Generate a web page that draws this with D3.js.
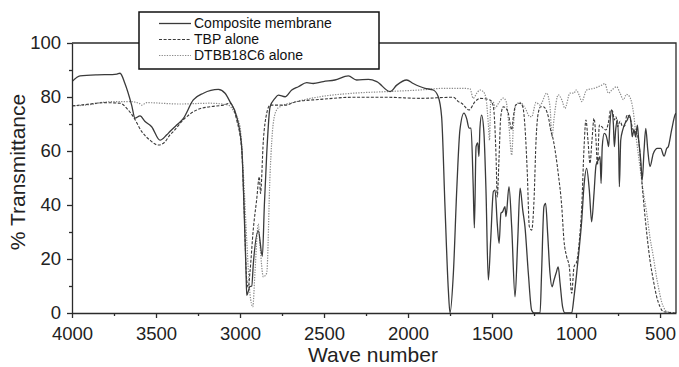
<!DOCTYPE html>
<html>
<head>
<meta charset="utf-8">
<script src="https://cdn.jsdelivr.net/npm/d3@7/dist/d3.min.js"></script>
<style>
  body { margin: 0; background: #fff; }
  svg { display: block; font-family: "Liberation Sans", Arial, sans-serif; }
</style>
</head>
<body>
<div id="chart"></div>
<script>
// wave numbers (cm-1) and % transmittance
const compositeWave = [4000,3952,3850,3760,3732,3714,3685,3645,3625,3595,3565,3526,3476,3436,3417,3377,3338,3278,3218,3129,3089,3060,3020,2990,2976,2964,2960,2951,2941,2930,2921,2891,2867,2855,2841,2821,2792,2772,2732,2692,2653,2603,2564,2504,2435,2355,2306,2236,2186,2107,2067,2008,1969,1899,1850,1820,1800,1780,1760,1750,1730,1710,1691,1667,1651,1637,1625,1612,1605,1595,1585,1578,1572,1562,1548,1536,1522,1508,1492,1482,1469,1458,1447,1437,1423,1417,1399,1383,1363,1347,1333,1317,1304,1284,1264,1250,1214,1205,1191,1181,1169,1155,1143,1131,1119,1106,1095,1080,1066,1026,1012,996,980,966,953,937,921,907,893,881,867,857,851,844,832,822,814,806,798,788,778,772,764,754,746,742,734,722,708,695,683,673,666,655,645,635,627,615,606,595,585,573,560,540,516,496,476,460,451,431,411,405];
const compositeT = [85.7,87.8,88.2,88.3,88.5,88.8,85,77,72.2,73,70.9,69,64,66,67.2,69.6,72,78.9,81.4,82.8,81.4,78.3,72.7,61.6,39,14.8,6.5,8,9.8,10,18,30.4,21,40,59,76.4,79.5,80.7,80.1,82.6,83.8,85.3,85,85.7,86.3,87.8,86.3,86.5,85.7,82,84.4,86.3,85,83.2,82.6,80.1,72.7,39.4,8.5,0,14.8,45.6,67.8,74,72,68.5,68.5,46.8,31.5,61.6,63,58,68.4,73.3,66.6,45.5,12.2,27,45,45.5,33.2,25.8,37,37.5,39.4,35.7,46.8,32,6,27,46.2,38,32,14.8,1,0,0,15,39.4,40.6,29.5,14.7,9.7,12.2,14.7,17.1,11,2.3,0,0,6,14.8,24.6,34.4,46.8,53.6,45.5,33.8,44.3,54.8,56.7,57.9,48,61.6,66.5,65.9,64,61.6,70.3,75.2,70.3,61.6,67.8,71.5,60.4,46.8,64,67.8,70.3,71.5,73.3,70.9,65.3,67.8,65.3,69.6,64,56.7,49.3,60.4,68.4,60.4,54.2,59.1,61,61,58.1,61,61.6,67.8,73.3,74];

const tbpWave = [4000,3893,3815,3714,3674,3635,3585,3536,3486,3446,3417,3397,3338,3258,3179,3099,3060,3020,2990,2976,2960,2951,2941,2921,2901,2885,2878,2861,2841,2821,2792,2732,2663,2524,2326,2127,1929,1730,1701,1681,1637,1601,1572,1512,1492,1476,1469,1458,1448,1433,1417,1403,1393,1383,1373,1359,1333,1317,1304,1290,1278,1264,1250,1238,1225,1210,1195,1165,1151,1135,1119,1106,1085,1072,1056,1040,1026,1012,996,980,966,953,941,929,917,905,893,881,873,861,847,838,822,808,794,782,772,762,752,738,722,708,698,679,660,639,623,609,595,579,560,540,520,500,480,441,405];
const tbpT = [76.7,77.4,77.9,77.7,75.8,72.7,67.2,64,62.2,63.4,66,67.2,71.5,75.2,76.4,77,77.7,71.5,60.4,39.4,12.2,9.5,15,31,41.9,50.5,44.3,64,74,77,77,77,78.3,79.1,79.9,79.9,79.5,79.9,78.3,77.7,75.2,78.3,79.5,78.9,76.4,57.9,43,57.9,72.7,76.4,75.8,74,70.3,67.8,72.7,77,77.7,76.4,69,51.7,32,30.7,41.9,64,74,76.4,76.4,72.7,67.8,64,57.9,51.7,39.4,27,20.9,17.1,7.3,17.1,19,27,39.4,60.4,71.5,64,55.4,64,72.1,64,54.8,69.6,69,68.4,67.8,70.3,75.2,74.6,71.5,72.7,69,71,69,69.6,73.3,72.1,67.8,66.5,61.6,49.3,39.4,29.5,19.6,12.2,6,2.3,0.5,0.2,0];

const dtbbWave = [4000,3893,3833,3756,3655,3595,3585,3555,3357,3179,3070,3040,3000,2980,2960,2941,2924,2911,2891,2881,2861,2841,2821,2802,2782,2762,2663,2524,2326,2127,1929,1790,1671,1631,1612,1591,1572,1552,1536,1522,1515,1508,1492,1482,1458,1433,1417,1399,1383,1373,1359,1333,1304,1274,1264,1238,1214,1175,1155,1143,1131,1106,1085,1066,1036,1012,1000,980,966,937,893,847,828,808,788,758,738,718,700,680,660,640,619,600,579,560,540,520,510,490,480,460,405];
const dtbbT = [76.7,77.2,77.9,78.3,78.3,77.5,77,77.9,77.4,77.7,77,75,69,51.7,27,7.3,2.3,15,33,25,13.4,14.8,51.7,70.3,75.2,76.4,78.3,80.1,81.4,82,82.6,83.2,83.2,83,79.5,81.4,82.6,82,79.5,70,64,78,78,76,78,79.6,78.5,69,58.5,69,77,78,76,72.7,72.7,78,77,81.4,76.4,65.3,72,80.8,79,75.8,81.4,81.4,82.6,80.5,78.3,82.6,83.2,84.4,85,81.4,82.5,83.8,81.4,79,81,80,75,64,54,45,37,28,20.9,13,9.7,4,2.3,0.5,0];

const xMajor = [4000,3500,3000,2500,2000,1500,1000,500];
const xMinor = [3750,3250,2750,2250,1750,1250,750];
const yMajor = [0,20,40,60,80,100];
const yMinor = [10,30,50,70,90];

const legendLabels = ["Composite membrane", "TBP alone", "DTBB18C6 alone"];

const W = 679, H = 367;
const margin = { top: 43, right: 3, bottom: 54, left: 72 };

const svg = d3.select("#chart").append("svg")
  .attr("width", W)
  .attr("height", H);

const x = d3.scaleLinear().domain([4000, 405]).range([margin.left, W - margin.right]);
const y = d3.scaleLinear().domain([0, 100]).range([H - margin.bottom, margin.top]);

const ink = "#2b2b2b";

svg.append("clipPath").attr("id", "plot-clip")
  .append("rect")
  .attr("x", margin.left).attr("y", margin.top)
  .attr("width", x.range()[1] - margin.left)
  .attr("height", y(0) - margin.top);

// series
const series = [
  { wave: compositeWave, t: compositeT, color: "#3a3a3a", dash: null, width: 1.3 },
  { wave: tbpWave, t: tbpT, color: "#3a3a3a", dash: "3,1.6", width: 1.1 },
  { wave: dtbbWave, t: dtbbT, color: "#8a8a8a", dash: "1.3,1.3", width: 1.2 }
];

const line = d3.line()
  .x(d => x(d[0]))
  .y(d => y(d[1]))
  .curve(d3.curveMonotoneX);

const plot = svg.append("g").attr("clip-path", "url(#plot-clip)");

// lighter ones first so the solid sits on top
[2, 1, 0].forEach(i => {
  const s = series[i];
  plot.append("path")
    .datum(s.wave.map((w, j) => [w, s.t[j]]))
    .attr("fill", "none")
    .attr("stroke", s.color)
    .attr("stroke-width", s.width)
    .attr("stroke-dasharray", s.dash)
    .attr("d", line);
});

// axes
svg.append("g")
  .attr("transform", `translate(0,${y(0)})`)
  .call(d3.axisBottom(x).tickValues(xMajor).tickFormat(d3.format("d"))
    .tickSize(5).tickSizeOuter(0).tickPadding(9));
svg.append("g")
  .attr("transform", `translate(0,${y(0)})`)
  .call(d3.axisBottom(x).tickValues(xMinor).tickSize(3).tickFormat(""))
  .call(g => g.select(".domain").remove());

svg.append("g")
  .attr("transform", `translate(${margin.left},0)`)
  .call(d3.axisLeft(y).tickValues(yMajor).tickSize(5).tickSizeOuter(0).tickPadding(6));
svg.append("g")
  .attr("transform", `translate(${margin.left},0)`)
  .call(d3.axisLeft(y).tickValues(yMinor).tickSize(3).tickFormat(""))
  .call(g => g.select(".domain").remove());

svg.selectAll(".domain, .tick line").attr("stroke", ink).attr("stroke-width", 1.3);
svg.selectAll(".tick text")
  .attr("fill", "#222")
  .style("font-size", "18.5px")
  .style("font-family", "\"Liberation Sans\", Arial, sans-serif");

// top and right frame
svg.append("path")
  .attr("d", `M${margin.left},${y(100)}H${x.range()[1]}V${y(0)}`)
  .attr("fill", "none")
  .attr("stroke", ink)
  .attr("stroke-width", 1.3);

// axis titles
svg.append("text")
  .attr("x", 373)
  .attr("y", 362)
  .attr("text-anchor", "middle")
  .attr("fill", "#222")
  .style("font-size", "21px")
  .text("Wave number");

svg.append("text")
  .attr("transform", `translate(25,172) rotate(-90)`)
  .attr("text-anchor", "middle")
  .attr("fill", "#222")
  .style("font-size", "21px")
  .text("% Transmittance");

// legend
const legend = svg.append("g");
legend.append("rect")
  .attr("x", 139).attr("y", 12)
  .attr("width", 240).attr("height", 57)
  .attr("fill", "#fff")
  .attr("stroke", "#111")
  .attr("stroke-width", 1.5);

legendLabels.forEach((label, i) => {
  const s = series[i];
  const cy = 23.5 + i * 16;
  legend.append("line")
    .attr("x1", 159).attr("x2", 191)
    .attr("y1", cy).attr("y2", cy)
    .attr("stroke", s.color)
    .attr("stroke-width", s.width)
    .attr("stroke-dasharray", s.dash);
  legend.append("text")
    .attr("x", 194)
    .attr("y", cy)
    .attr("dy", "0.35em")
    .attr("fill", "#111")
    .style("font-size", "14px")
    .text(label);
});
</script>
</body>
</html>
